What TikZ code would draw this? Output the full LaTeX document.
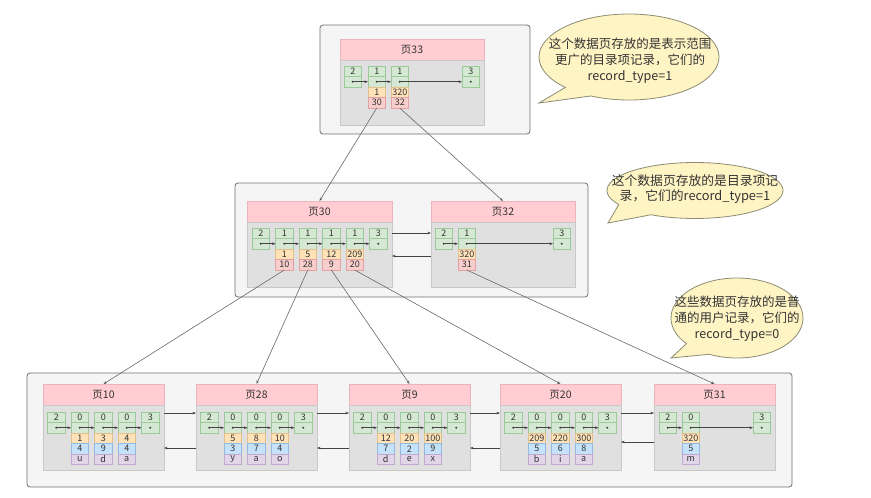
\documentclass[tikz,border=0pt]{standalone}
\usepackage{fontspec}
\setmainfont{Noto Sans CJK SC}
\usetikzlibrary{arrows.meta,calc}
\definecolor{txt}{HTML}{333333}
\definecolor{boxd}{HTML}{707070}
\definecolor{boxf}{HTML}{F5F5F5}
\definecolor{hdrf}{HTML}{FFCDD2}
\definecolor{hdrd}{HTML}{EDB3BA}
\definecolor{bdyf}{HTML}{E0E0E0}
\definecolor{bdyd}{HTML}{C8C8C8}
\definecolor{gf}{HTML}{D5E8D4}
\definecolor{gd}{HTML}{9CC99A}
\definecolor{of}{HTML}{FFE2B8}
\definecolor{od}{HTML}{E6C08C}
\definecolor{pf}{HTML}{F8CECC}
\definecolor{pd}{HTML}{E4A0A4}
\definecolor{bf}{HTML}{C6E2FA}
\definecolor{bd}{HTML}{92BAE0}
\definecolor{vf}{HTML}{E1D5E7}
\definecolor{vd}{HTML}{C2A9D2}
\definecolor{bubf}{HTML}{FFF4C4}
\definecolor{bubd}{HTML}{8C8C72}
\definecolor{arr}{HTML}{444444}
\definecolor{lnk}{HTML}{606060}
\tikzset{
  every node/.style={inner sep=0pt, outer sep=0pt, text=txt, font=\fontsize{9}{10}\selectfont},
  container/.style={draw=boxd, fill=boxf, rounded corners=3pt, line width=0.8pt, anchor=north west},
  hdr/.style={draw=hdrd, fill=hdrf, anchor=north west, minimum height=21pt, line width=0.6pt, font=\fontsize{10.5}{12}\selectfont},
  bdy/.style={draw=bdyd, fill=bdyf, anchor=north west, line width=0.6pt},
  cellbase/.style={minimum width=17.5pt, minimum height=10.5pt, anchor=north west, line width=0.6pt},
  gcell/.style={cellbase, draw=gd, fill=gf},
  ocell/.style={cellbase, draw=od, fill=of},
  pcell/.style={cellbase, draw=pd, fill=pf},
  bcell/.style={cellbase, draw=bd, fill=bf},
  vcell/.style={cellbase, draw=vd, fill=vf},
  ptr/.style={draw=arr, line width=0.6pt, -{Stealth[length=3.5pt, width=2.6pt]}},
  link/.style={draw=lnk, line width=0.55pt, -{Stealth[length=3.5pt, width=2.6pt]}},
  bubble/.style={draw=bubd, fill=bubf, line width=0.8pt},
  ctext/.style={align=center, text=txt},
}
\newcommand\mkpage[5]{%
  \node[hdr, minimum width=#4] (#1-head) at (#2,#3) {#5};
  \node[bdy, minimum width=#4, minimum height=65pt] (#1-body) at (#1-head.south west) {};
}
\newcommand\mkcell[4]{%
  \node[gcell] (#1-t) at (#2,#3) {#4};
  \node[gcell] (#1-b) at (#1-t.south west) {};
  \fill[arr] (#1-b.center) circle (1.2pt);
}
\begin{document}
\begin{tikzpicture}[x=1pt, y=-1pt]
\fill[white] (0,0) rectangle (871,498);
\useasboundingbox (0,0) rectangle (871,498);

% containers
\node[container, minimum width=210pt, minimum height=109pt] (box1) at (320,25) {};
\node[container, minimum width=353pt, minimum height=114pt] (box2) at (235,183) {};
\node[container, minimum width=765pt, minimum height=114pt] (box3) at (27,373) {};

% page 33
\mkpage{p33}{340}{39}{144pt}{页33}
\mkcell{p33c0}{344}{66}{2}
\mkcell{p33c1}{368}{66}{1}
\mkcell{p33c2}{391}{66}{1}
\mkcell{p33c3}{462}{66}{3}
\node[ocell] (p33o1) at (p33c1-b.south west) {1};
\node[pcell] (p33p1) at (p33o1.south west) {30};
\node[ocell] (p33o2) at (p33c2-b.south west) {320};
\node[pcell] (p33p2) at (p33o2.south west) {32};
\foreach \i [count=\j] in {0,1,2} {\draw[ptr] (p33c\i-b.center) -- (p33c\j-b.west);}

% page 30
\mkpage{p30}{247}{201}{145pt}{页30}
\foreach \i/\v in {0/2,1/1,2/1,3/1,4/1,5/3} {\mkcell{p30c\i}{252+23.5*\i}{228}{\v}}
\foreach \i/\a/\b in {1/1/10,2/5/28,3/12/9,4/209/20} {
  \node[ocell] (p30o\i) at (p30c\i-b.south west) {\a};
  \node[pcell] (p30p\i) at (p30o\i.south west) {\b};
}
\foreach \i [count=\j] in {0,...,4} {\draw[ptr] (p30c\i-b.center) -- (p30c\j-b.west);}

% page 32
\mkpage{p32}{431}{201}{144pt}{页32}
\mkcell{p32c0}{435}{228}{2}
\mkcell{p32c1}{458}{228}{1}
\mkcell{p32c2}{553}{228}{3}
\node[ocell] (p32o1) at (p32c1-b.south west) {320};
\node[pcell] (p32p1) at (p32o1.south west) {31};
\foreach \i [count=\j] in {0,1} {\draw[ptr] (p32c\i-b.center) -- (p32c\j-b.west);}

\draw[ptr] ($(p30-body.north east)+(0,11)$) -- ($(p32-body.north west)+(0,11)$);
\draw[ptr] ($(p32-body.north west)+(0,34)$) -- ($(p30-body.north east)+(0,34)$);

% leaf pages
\foreach \pg/\px/\ttl/\ex in {
  p10/43/页10/{1/1/4/u,2/3/9/d,3/4/4/a},
  p28/196/页28/{1/5/3/y,2/8/7/a,3/10/4/o},
  p9/349/页9/{1/12/7/d,2/20/2/e,3/100/9/x},
  p20/500/页20/{1/209/5/b,2/220/6/i,3/300/8/a}} {
  \mkpage{\pg}{\px}{384}{121pt}{\ttl}
  \foreach \i/\v in {0/2,1/0,2/0,3/0,4/3} {\mkcell{\pg c\i}{\px+4.5+23.5*\i}{412}{\v}}
  \foreach \i [count=\j] in {0,...,3} {\draw[ptr] (\pg c\i-b.center) -- (\pg c\j-b.west);}
  \foreach \i/\a/\b/\c in \ex {
    \node[ocell] (\pg o\i) at (\pg c\i-b.south west) {\a};
    \node[bcell] (\pg l\i) at (\pg o\i.south west) {\b};
    \node[vcell] (\pg v\i) at (\pg l\i.south west) {\c};
  }
}
\mkpage{p31}{654}{384}{121pt}{页31}
\mkcell{p31c0}{659}{412}{2}
\mkcell{p31c1}{682}{412}{0}
\mkcell{p31c2}{753}{412}{3}
\node[ocell] (p31o1) at (p31c1-b.south west) {320};
\node[bcell] (p31l1) at (p31o1.south west) {5};
\node[vcell] (p31v1) at (p31l1.south west) {m};
\foreach \i [count=\j] in {0,1} {\draw[ptr] (p31c\i-b.center) -- (p31c\j-b.west);}

\foreach \a/\b in {p10/p28,p28/p9,p9/p20,p20/p31} {
  \draw[ptr] ($(\a-body.north east)+(0,8)$) -- ($(\b-body.north west)+(0,8)$);
}
\foreach \a/\b/\d in {p10/p28/43,p28/p9/43,p9/p20/43,p20/p31/37} {
  \draw[ptr] ($(\b-body.north west)+(0,\d)$) -- ($(\a-body.north east)+(0,\d)$);
}

% level links
\draw[link] (p33p1.south) -- (p30-head.north);
\draw[link] (p33p2.south) -- (p32-head.north);
\draw[link] (p30p1.south) -- (p10-head.north);
\draw[link] (p30p2.south) -- (p28-head.north);
\draw[link] (p30p3.south) -- (p9-head.north);
\draw[link] (p30p4.south) -- (p20-head.north);
\draw[link] (p32p1.south) -- (p31-head.north);

% callouts
\draw[bubble] ($(629,57)+(135:90 and 43)$) arc[start angle=135, end angle=475, x radius=90, y radius=43] -- (539,103) -- cycle;
\node[ctext, font=\fontsize{12.5}{16}\selectfont] (t1) at (630,61) {这个数据页存放的是表示范围\\更广的目录项记录，它们的\\record\_type=1};

\draw[bubble] ($(695,190.5)+(150:88 and 28)$) arc[start angle=150, end angle=480, x radius=88, y radius=28] -- (608,223) -- cycle;
\node[ctext, font=\fontsize{12.8}{14.5}\selectfont] (t2) at (695,189) {这个数据页存放的是目录项记\\录，它们的record\_type=1};

\draw[bubble] ($(737,318)+(140:66 and 40)$) arc[start angle=140, end angle=475, x radius=66, y radius=40] -- (671,358) -- cycle;
\node[ctext, font=\fontsize{12.5}{16}\selectfont] (t3) at (737,319) {这些数据页存放的是普\\通的用户记录，它们的\\record\_type=0};
\end{tikzpicture}
\end{document}
